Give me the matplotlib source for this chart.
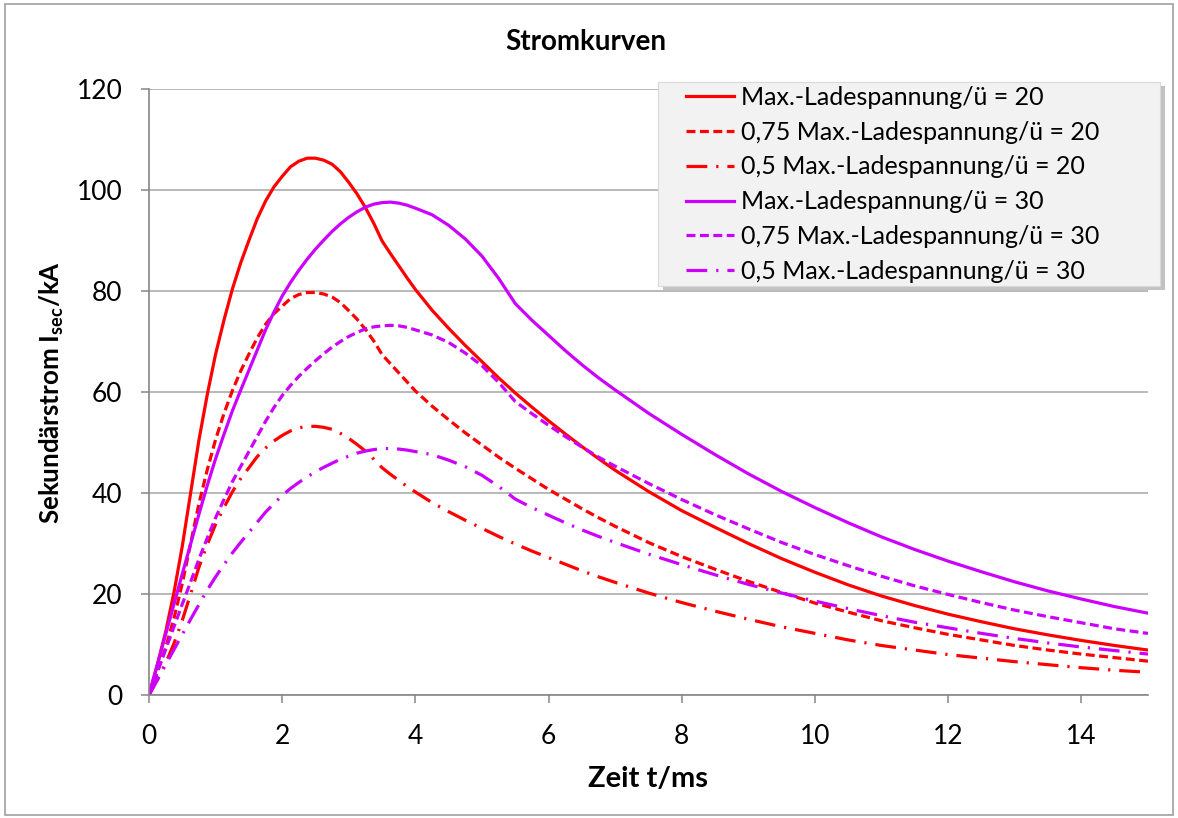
import matplotlib.pyplot as plt
from matplotlib.patches import Rectangle

plt.rcParams['font.family'] = ['Lato', 'DejaVu Sans']
plt.rcParams['mathtext.fontset'] = 'custom'
plt.rcParams['mathtext.rm'] = 'Lato'
plt.rcParams['mathtext.bf'] = 'Lato:bold'

# Zeit in ms
t = [0, 0.125, 0.25, 0.375, 0.5, 0.625, 0.75, 0.875, 1.0, 1.125, 1.25, 1.375, 1.5, 1.625,
     1.75, 1.875, 2.0, 2.125, 2.25, 2.375, 2.5, 2.625, 2.75, 2.875, 3.0, 3.125, 3.25, 3.375,
     3.5, 3.625, 3.75, 3.875, 4.0,
     4.25, 4.5, 4.75, 5.0, 5.25, 5.5, 5.75, 6.0, 6.25, 6.5, 6.75, 7.0,
     7.5, 8.0, 8.5, 9.0, 9.5, 10.0, 10.5, 11.0, 11.5, 12.0, 12.5, 13.0, 13.5, 14.0, 14.5, 15.0]

# Sekundärstrom in kA
red_100 = [0, 6, 12.5, 20.3, 29.5, 40, 50.5, 59.5, 67.5, 74.2, 80.3, 85.5, 90, 94.3,
           97.8, 100.6, 102.7, 104.6, 105.7, 106.3, 106.3, 105.9, 105.1, 103.6, 101.5, 99.2, 96.5, 93.4,
           89.9, 87.4, 85, 82.6, 80.3,
           76.2, 72.6, 69.2, 66.0, 62.8, 59.8, 57.0, 54.3, 51.7, 49.2, 46.8, 44.5,
           40.3, 36.5, 33.2, 30.0, 27.0, 24.3, 21.8, 19.6, 17.7, 16.0, 14.5, 13.1, 11.9, 10.8, 9.8, 8.9]
red_75 = [0, 4.5, 9.4, 15.2, 22.1, 30, 37.9, 44.6, 50.6, 55.7, 60.2, 64.1, 67.5, 70.7,
          73.4, 75.5, 77.0, 78.5, 79.3, 79.7, 79.7, 79.4, 78.8, 77.7, 76.1, 74.4, 72.4, 70.1,
          67.4, 65.6, 63.8, 62.0, 60.2,
          57.2, 54.5, 51.9, 49.5, 47.1, 44.9, 42.8, 40.7, 38.8, 36.9, 35.1, 33.4,
          30.2, 27.4, 24.9, 22.5, 20.3, 18.2, 16.4, 14.7, 13.3, 12.0, 10.9, 9.8, 8.9, 8.1, 7.4, 6.7]
red_50 = [0, 3, 6.3, 10.2, 14.8, 20, 25.3, 29.8, 33.8, 37.1, 40.2, 42.8, 45, 47.2,
          48.9, 50.3, 51.4, 52.3, 52.9, 53.2, 53.2, 53.0, 52.6, 51.8, 50.8, 49.6, 48.3, 46.7,
          45.0, 43.7, 42.5, 41.3, 40.2,
          38.1, 36.3, 34.6, 33.0, 31.4, 29.9, 28.5, 27.2, 25.9, 24.6, 23.4, 22.3,
          20.2, 18.3, 16.6, 15.0, 13.5, 12.2, 10.9, 9.8, 8.9, 8.0, 7.3, 6.6, 6.0, 5.4, 4.9, 4.5]
pur_100 = [0, 6, 12, 18, 24, 29.9, 35.8, 41.5, 46.8, 51.6, 56.2, 60.3, 64.3, 68.3,
           72.3, 75.8, 79, 81.7, 84.1, 86.3, 88.3, 90.1, 91.8, 93.3, 94.6, 95.7, 96.6, 97.2,
           97.5, 97.6, 97.4, 97.0, 96.4,
           95.1, 93.0, 90.3, 86.9, 82.5, 77.5, 74.2, 71.2, 68.2, 65.4, 62.8, 60.4,
           55.8, 51.6, 47.6, 43.8, 40.3, 37.1, 34.1, 31.3, 28.8, 26.5, 24.4, 22.4, 20.6, 19.0, 17.5, 16.2]
pur_75 = [0, 4.5, 9, 13.5, 18, 22.4, 26.9, 31.1, 35.1, 38.7, 42.2, 45.2, 48.2, 51.2,
          54.2, 56.9, 59.3, 61.3, 63.1, 64.7, 66.2, 67.6, 68.9, 70.0, 71.0, 71.8, 72.5, 72.9,
          73.1, 73.2, 73.1, 72.8, 72.3,
          71.3, 69.8, 67.7, 65.2, 61.9, 58.1, 55.7, 53.4, 51.2, 49.1, 47.1, 45.3,
          41.9, 38.7, 35.7, 32.9, 30.2, 27.8, 25.6, 23.5, 21.6, 19.9, 18.3, 16.8, 15.5, 14.3, 13.1, 12.2]
pur_50 = [0, 3, 6, 9, 12, 15.0, 17.9, 20.8, 23.4, 25.8, 28.1, 30.2, 32.2, 34.2,
          36.2, 37.9, 39.5, 40.9, 42.1, 43.2, 44.2, 45.1, 45.9, 46.7, 47.3, 47.9, 48.3, 48.6,
          48.8, 48.8, 48.7, 48.5, 48.2,
          47.6, 46.5, 45.2, 43.5, 41.3, 38.8, 37.1, 35.6, 34.1, 32.7, 31.4, 30.2,
          27.9, 25.8, 23.8, 21.9, 20.2, 18.6, 17.1, 15.7, 14.4, 13.3, 12.2, 11.2, 10.3, 9.5, 8.8, 8.1]

labels = ["Max.-Ladespannung/ü = 20", "0,75 Max.-Ladespannung/ü = 20",
          "0,5 Max.-Ladespannung/ü = 20", "Max.-Ladespannung/ü = 30",
          "0,75 Max.-Ladespannung/ü = 30", "0,5 Max.-Ladespannung/ü = 30"]
series = [red_100, red_75, red_50, pur_100, pur_75, pur_50]

red = '#ff0000'
purple = '#cc00ff'
colors = [red, red, red, purple, purple, purple]
dashed = (0, (2.8, 1.4))
dashdot = (0, (6.5, 2.8, 0.7, 2.8))
styles = ['-', dashed, dashdot, '-', dashed, dashdot]

W, H = 1178, 818
fig = plt.figure(figsize=(W / 100, H / 100), dpi=100)
ax = fig.add_axes([149 / W, 1 - 695 / H, (1148 - 149) / W, (695 - 89) / H])

handles = []
for y, lab, c, ls in zip(series, labels, colors, styles):
    line, = ax.plot(t, y, color=c, linestyle=ls, linewidth=2.3, label=lab)
    handles.append(line)

ax.set_xlim(0, 15)
ax.set_ylim(0, 120)
ax.set_xticks([0, 2, 4, 6, 8, 10, 12, 14])
ax.set_yticks([0, 20, 40, 60, 80, 100, 120])
ax.yaxis.grid(True, color='#a6a6a6', linewidth=1.1)
ax.set_axisbelow(True)
for s in ['top', 'right']:
    ax.spines[s].set_visible(False)
for s in ['left', 'bottom']:
    ax.spines[s].set_color('#868686')
    ax.spines[s].set_linewidth(1.2)
ax.tick_params(axis='both', direction='out', length=6, width=1.1, color='#868686',
               labelsize=19)
ax.tick_params(axis='y', pad=13)
ax.tick_params(axis='x', pad=15)

ax.set_xlabel("Zeit t/ms", fontsize=21, fontweight='bold', labelpad=12)
ax.set_ylabel(r"Sekundärstrom I$_\mathbf{sec}$/kA", fontsize=18.6, fontweight='bold',
              labelpad=8)
fig.text(586 / W, 1 - 42 / H, "Stromkurven", ha='center', va='center',
         fontsize=20, fontweight='bold')

# Legendenkasten mit Schatten
fig.patches.append(Rectangle((663 / W, 1 - 290 / H), 502 / W, 204 / H,
                             transform=fig.transFigure, facecolor='#a8a8a8',
                             edgecolor='none', alpha=0.7, zorder=1))
fig.patches.append(Rectangle((658 / W, 1 - 286 / H), 502 / W, 204 / H,
                             transform=fig.transFigure, facecolor='#f2f2f2',
                             edgecolor='#d9d9d9', linewidth=0.8, zorder=2))
fig.legend(handles, labels, loc='upper left', bbox_to_anchor=(686 / W, 1 - 86 / H),
           bbox_transform=fig.transFigure, fontsize=18, frameon=False,
           handlelength=1.9, handletextpad=0.3, labelspacing=0.47,
           borderpad=0, borderaxespad=0)

fig.patches.append(Rectangle((5 / W, 3 / H), 1168 / W, 811 / H,
                             transform=fig.transFigure, fill=False,
                             edgecolor='#a0a0a0', linewidth=1.2))

fig.savefig('out.png', dpi=100)
